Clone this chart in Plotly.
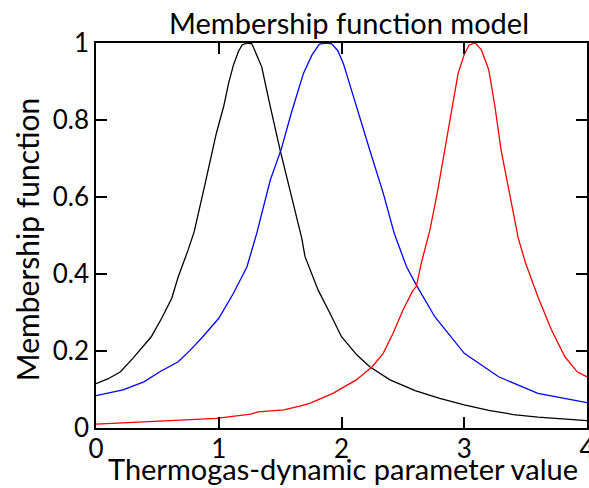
import plotly.graph_objects as go

x_black = [0, 0.1, 0.2, 0.3, 0.45, 0.535, 0.617, 0.67, 0.75, 0.8, 0.89, 0.98, 1.04, 1.08, 1.12, 1.16, 1.19, 1.23,
           1.27, 1.3, 1.35, 1.42, 1.5, 1.58, 1.676, 1.703, 1.81, 1.906, 2.0, 2.124, 2.23, 2.395, 2.6, 2.8, 3.0,
           3.2, 3.4, 3.6, 3.8, 4.0]
y_black = [0.115, 0.128, 0.146, 0.181, 0.237, 0.285, 0.337, 0.393, 0.462, 0.51, 0.636, 0.765, 0.835, 0.895, 0.943,
           0.978, 0.995, 1.0, 0.998, 0.975, 0.938, 0.835, 0.722, 0.618, 0.493, 0.445, 0.358, 0.298, 0.237, 0.19,
           0.159, 0.125, 0.097, 0.077, 0.06, 0.046, 0.035, 0.028, 0.023, 0.019]

x_blue = [0, 0.22, 0.39, 0.52, 0.67, 0.77, 0.87, 1.0, 1.12, 1.23, 1.31, 1.42, 1.51, 1.59, 1.69, 1.76, 1.82, 1.87,
          1.92, 1.97, 2.015, 2.12, 2.23, 2.34, 2.43, 2.53, 2.61, 2.76, 3.0, 3.28, 3.6, 4.0]
y_blue = [0.084, 0.099, 0.12, 0.146, 0.172, 0.203, 0.237, 0.285, 0.35, 0.419, 0.506, 0.644, 0.725, 0.817, 0.921,
          0.969, 0.997, 1.0, 0.998, 0.98, 0.947, 0.835, 0.722, 0.61, 0.505, 0.419, 0.371, 0.289, 0.194, 0.133,
          0.09, 0.066]

x_red = [0, 0.22, 0.6, 0.98, 1.26, 1.32, 1.53, 1.66, 1.74, 1.93, 2.12, 2.25, 2.34, 2.42, 2.5, 2.58, 2.61, 2.65,
         2.69, 2.72, 2.78, 2.84, 2.9, 2.95, 3.0, 3.04, 3.09, 3.14, 3.2, 3.25, 3.3, 3.37, 3.44, 3.5, 3.6, 3.71,
         3.82, 3.92, 4.0]
y_red = [0.010, 0.014, 0.019, 0.025, 0.036, 0.042, 0.047, 0.057, 0.064, 0.09, 0.125, 0.159, 0.194, 0.246, 0.306,
         0.356, 0.368, 0.428, 0.48, 0.514, 0.61, 0.722, 0.826, 0.921, 0.97, 0.995, 1.0, 0.982, 0.93, 0.835, 0.722,
         0.61, 0.493, 0.428, 0.341, 0.255, 0.185, 0.146, 0.133]

x_ticks = [0, 1, 2, 3, 4]
y_ticks = [0, 0.2, 0.4, 0.6, 0.8, 1]
y_tick_text = ["0", "0.2", "0.4", "0.6", "0.8", "1"]

title_text = "Membership function model"
x_title = "Thermogas-dynamic parameter value"
y_title = "Membership function"

FONT = "Lato"

fig = go.Figure()
fig.add_trace(go.Scatter(x=x_black, y=y_black, mode="lines", line=dict(color="black", width=1.3), showlegend=False))
fig.add_trace(go.Scatter(x=x_blue, y=y_blue, mode="lines", line=dict(color="blue", width=1.3), showlegend=False))
fig.add_trace(go.Scatter(x=x_red, y=y_red, mode="lines", line=dict(color="red", width=1.3), showlegend=False))

axis_common = dict(showline=True, linecolor="black", linewidth=1.5, mirror="ticks", ticks="inside",
                   ticklen=11, tickwidth=1.5, tickcolor="black", showgrid=False, zeroline=False,
                   tickfont=dict(family=FONT, size=26, color="black"), automargin=False,
                   ticklabeloverflow="allow")

fig.update_layout(
    width=589, height=488,
    margin=dict(l=96, r=2, t=43, b=60),
    paper_bgcolor="white", plot_bgcolor="white",
    xaxis=dict(range=[0, 4], tickvals=x_ticks, ticktext=[str(v) for v in x_ticks], ticklabelstandoff=-3,
               **axis_common),
    yaxis=dict(range=[0, 1], tickvals=y_ticks, ticktext=y_tick_text, **axis_common),
    annotations=[
        dict(text=title_text, xref="paper", yref="paper", x=0.515, y=1.0545, xanchor="center", yanchor="middle",
             showarrow=False, font=dict(family=FONT, size=29, color="black")),
        dict(text=x_title, xref="paper", yref="paper", x=0.503, y=-0.106, xanchor="center", yanchor="middle",
             showarrow=False, font=dict(family=FONT, size=29, color="black")),
        dict(text=y_title, xref="paper", yref="paper", x=-0.1405, y=0.488, xanchor="center", yanchor="middle",
             textangle=-90, showarrow=False, font=dict(family=FONT, size=30, color="black")),
    ],
)

fig.write_html("out.html", config={"displayModeBar": False},
               post_script="document.body.style.margin='0';document.body.style.overflow='hidden';")
